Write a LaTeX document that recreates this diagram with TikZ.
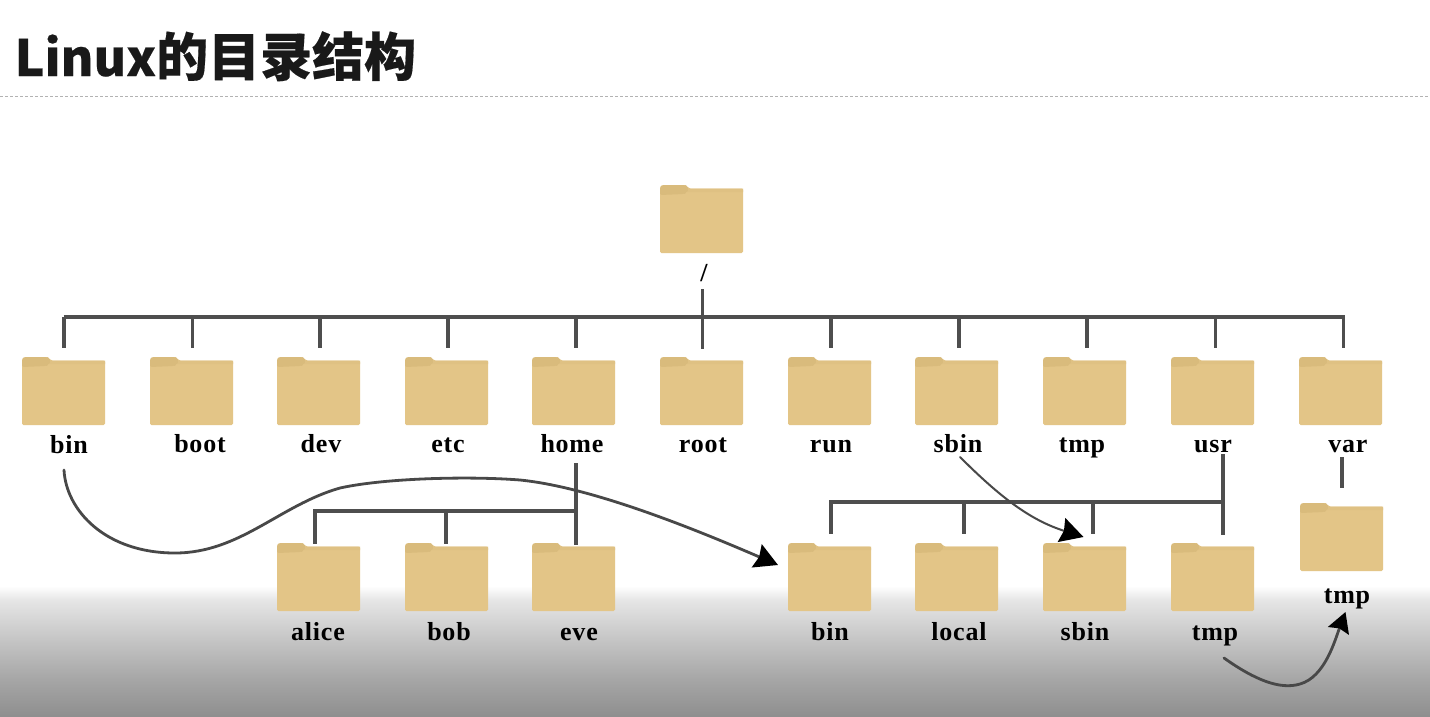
\documentclass[tikz,border=0pt]{standalone}
\usepackage{fontspec}
\usetikzlibrary{arrows.meta}
\setmainfont{Liberation Serif}[LetterSpace=3]
\newfontfamily\cjk{Noto Sans CJK SC}[BoldFeatures={FakeBold=0.3}]
\definecolor{fbody}{HTML}{E3C587}
\definecolor{ftab}{HTML}{D9BB7C}
\definecolor{fedge}{HTML}{DFC183}
\definecolor{wire}{HTML}{4E4E4E}
\definecolor{curve}{HTML}{484848}
\pgfdeclareverticalshading{floorshade}{100bp}{
  color(0bp)=(black!44); color(25bp)=(black!44); color(39bp)=(black!35); color(54bp)=(black!23); color(69.6bp)=(black!10); color(75bp)=(white); color(100bp)=(white)}
\tikzset{
  folderbox/.style={anchor=north west,inner sep=0pt,outer sep=0pt,minimum width=83pt,minimum height=68pt},
  lbl/.style={anchor=base,inner sep=0pt,font=\fontsize{26}{26}\selectfont\bfseries,text=black},
  wireline/.style={draw=wire,line width=3.4pt},
  jump/.style={draw=curve,line cap=round,-{Stealth[length=23pt,width=25pt,inset=2.5pt,color=black]}}
}
\newcommand\folder[3]{%
  \begin{scope}[shift={(#2,#3)}]
    \fill[fbody,rounded corners=1.5pt] (0,4) -- (0,68) -- (83,68) -- (83,3.5) -- (29,3.5) -- (27,1) -- (25,0) -- (2,0) -- (0,2) -- cycle;
    \fill[fedge] (29,3.5) -- (83,3.5) -- (83,7) -- (0,7) -- (0,4) -- cycle;
    \fill[ftab,rounded corners=2pt] (0,10) -- (0,2) -- (2,0) -- (25,0) -- (27,1) -- (29,4) -- (26,8) -- (24,9) -- cycle;
    \node[folderbox] (#1) at (0,0) {};
  \end{scope}}
\begin{document}
\begin{tikzpicture}[x=1pt,y=-1pt]
\useasboundingbox (0,0) rectangle (1430,716);
\fill[white] (0,0) rectangle (1430,716);
\shade[shading=floorshade] (0,586) rectangle (1430,716);
% title
\node[anchor=base west,inner sep=0pt,text=black!90,font=\cjk\fontsize{52}{52}\selectfont\bfseries] (title) at (14.5,76) {{\fontsize{50}{50}\selectfont Linux}的目录结构};
\coordinate (ruleL) at (0,96.5);
\coordinate (ruleR) at (1430,96.5);
\draw[black!30,line width=.6pt,dash pattern=on 3pt off 2pt] (ruleL) -- (ruleR);
% folders
\folder{root}{660}{185}
\foreach \n/\x in {bin/22,boot/150,dev/277,etc/405,home/532,rootd/660,run/788,sbin/915,tmp/1043,usr/1171,var/1299}
  {\folder{\n}{\x}{357}}
\foreach \n/\x in {alice/277,bob/405,eve/532,ubin/788,local/915,usbin/1043,utmp/1171}
  {\folder{\n}{\x}{543}}
\folder{vtmp}{1300}{503}
% labels
\node[lbl] (Lroot) at (704,281) {/};
\node[lbl] (Lbin) at (69,453) {bin};
\node[lbl] (Lboot) at (200,452) {boot};
\node[lbl] (Ldev) at (321,452) {dev};
\node[lbl] (Letc) at (448,452) {etc};
\node[lbl] (Lhome) at (572,452) {home};
\node[lbl] (Lrootd) at (703,452) {root};
\node[lbl] (Lrun) at (831,452) {run};
\node[lbl] (Lsbin) at (958,452) {sbin};
\node[lbl] (Ltmp) at (1082,452) {tmp};
\node[lbl] (Lusr) at (1213,452) {usr};
\node[lbl] (Lvar) at (1348,452) {var};
\node[lbl] (Lalice) at (318,640) {alice};
\node[lbl] (Lbob) at (449,640) {bob};
\node[lbl] (Leve) at (579,640) {eve};
\node[lbl] (Lubin) at (830,640) {bin};
\node[lbl] (Llocal) at (959,640) {local};
\node[lbl] (Lusbin) at (1085,640) {sbin};
\node[lbl] (Lutmp) at (1215,640) {tmp};
\node[lbl] (Lvtmp) at (1347,603) {tmp};
% top bus
\coordinate (busA) at (63.5,317);
\coordinate (busB) at (1344.8,317);
\draw[wireline] (busA) -- (busB);
\draw[wireline] ([shift={(-1.5,8)}]Lroot.base) -- ([shift={(-1.5,68)}]Lroot.base);
\foreach \n/\dx in {bin/.5,boot/1,dev/1.5,etc/1.5,home/2.5,run/1.5,sbin/2.5,tmp/2.5,usr/3,var/3}
  {\draw[wireline] (\n.north) ++(\dx,-40) -- ++(0,31);}
% home subtree
\coordinate (homeBus) at (576,511);
\draw[wireline] ([shift={(4,11)}]Lhome.base) -- ([shift={(2.5,2)}]eve.north);
\draw[wireline] (homeBus) -- ([shift={(-3.5,-32)}]alice.north);
\draw[wireline] ([shift={(-3.5,-33.7)}]alice.north) -- ([shift={(-3.5,1)}]alice.north);
\draw[wireline] ([shift={(-.5,-32)}]bob.north) -- ([shift={(-.5,1)}]bob.north);
% usr subtree
\coordinate (usrBus) at (1224.7,502);
\draw[wireline] ([shift={(10,2)}]Lusr.base) -- ([shift={(10,83)}]Lusr.base);
\draw[wireline] (usrBus) -- ([shift={(1.5,-41)}]ubin.north);
\draw[wireline] ([shift={(1.5,-42.7)}]ubin.north) -- ([shift={(1.5,-9)}]ubin.north);
\draw[wireline] ([shift={(7.5,-41)}]local.north) -- ([shift={(7.5,-9)}]local.north);
\draw[wireline] ([shift={(8.5,-41)}]usbin.north) -- ([shift={(8.5,-9)}]usbin.north);
% var subtree
\draw[wireline] ([shift={(-6,5)}]Lvar.base) -- ([shift={(.5,-15)}]vtmp.north);
% curved links
\draw[jump,line width=2.8pt] ([shift={(-5,17)}]Lbin.base) .. controls (66,510) and (105,553) .. (175,553)
  .. controls (240,553) and (280,505) .. (340,488)
  .. controls (385,478) and (470,476) .. (520,480)
  .. controls (590,487) and (690,527) .. ([shift={(-10,-12)}]ubin.west);
\draw[jump,line width=2pt] ([shift={(2,5)}]Lsbin.base) .. controls (1000,497) and (1030,520) .. ([shift={(-1,-6)}]usbin.north);
\draw[jump,line width=2.8pt,-{Stealth[length=20pt,width=22pt,inset=2.5pt,color=black]}] ([shift={(9,18)}]Lutmp.base) .. controls (1255,680) and (1280,690) .. (1300,684)
  .. controls (1325,677) and (1335,640) .. ([shift={(-1.5,9)}]Lvtmp.base);
\end{tikzpicture}
\end{document}
